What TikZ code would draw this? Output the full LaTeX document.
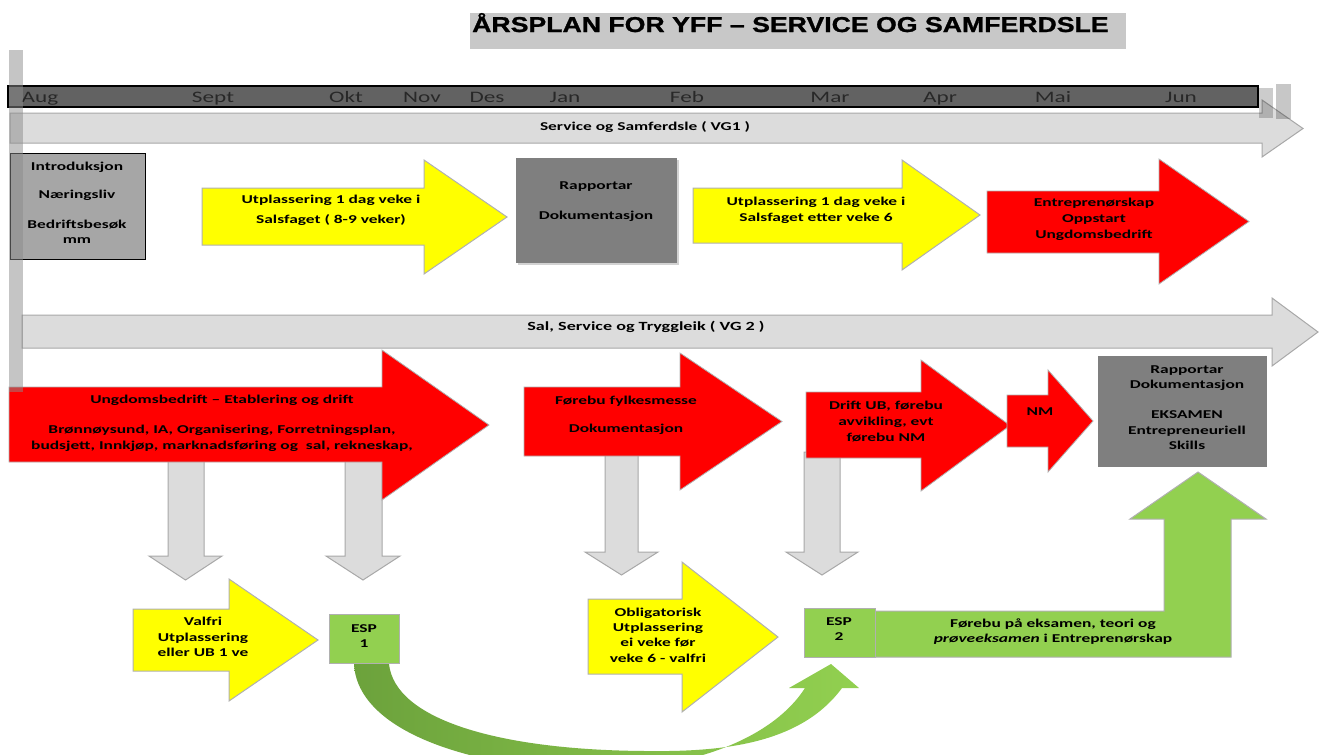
\documentclass[tikz,border=0pt]{standalone}
\usepackage{fontspec}
\setmainfont{Carlito}[FakeStretch=1.45]
\newfontfamily\titlefont{Liberation Sans}[FakeStretch=1.24, BoldFeatures={FakeBold=1.2}]
\usetikzlibrary{shadows}
\definecolor{bargrey}{RGB}{98,98,98}
\definecolor{monthtxt}{RGB}{40,40,40}
\definecolor{titlegrey}{RGB}{200,200,200}
\definecolor{lightarr}{RGB}{220,220,220}
\definecolor{lightline}{RGB}{168,168,168}
\definecolor{introgrey}{RGB}{166,166,166}
\definecolor{boxgrey}{RGB}{127,127,127}
\definecolor{yel}{RGB}{255,255,0}
\definecolor{redf}{RGB}{255,0,0}
\definecolor{edge}{RGB}{176,176,176}
\definecolor{grn}{RGB}{146,208,80}
\definecolor{dkgrn}{RGB}{108,162,60}
\definecolor{sidebar}{RGB}{140,140,140}
\tikzset{
  greyarr/.style={fill=lightarr, draw=lightline, line width=1pt},
  yelarr/.style={fill=yel, draw=edge, line width=1pt},
  redarr/.style={fill=redf, draw=edge, line width=0.8pt},
  grnshape/.style={fill=grn, draw=edge, line width=1pt},
  lbl/.style={font=\fontsize{12}{15.3}\selectfont\bfseries, align=center, inner sep=0pt},
  month/.style={font=\fontsize{16}{18}\selectfont, text=monthtxt, anchor=base, inner sep=0pt},
}
\newcommand{\rarr}[8]{%
  \path[#1] (#2,#5) -- (#3,#5) -- (#3,#7) -- (#4,{(#7+#8)/2}) -- (#3,#8) -- (#3,#6) -- (#2,#6) -- cycle;}
\newcommand{\darr}[8]{%
  \path[#1] (#2,#4) -- (#3,#4) -- (#3,#5) -- (#7,#5) -- ({(#6+#7)/2},#8) -- (#6,#5) -- (#2,#5) -- cycle;}
\begin{document}
\begin{tikzpicture}[x=1pt,y=-1pt]
\useasboundingbox (0,0) rectangle (1320,755);
\fill[white] (0,0) rectangle (1320,755);
\clip (0,0) rectangle (1320,755);
% title
\fill[titlegrey] (470,13) rectangle (1126,49);
\node[anchor=base west, inner sep=0pt] (title) at (472,32) {\titlefont\bfseries\fontsize{21.5}{25}\selectfont ÅRSPLAN FOR YFF – SERVICE OG SAMFERDSLE};
% month bar
\draw[fill=bargrey, draw=black, line width=1.5pt] (8,86) rectangle (1258,107);
\node[month] (m1) at (40,102) {Aug};
\node[month] (m2) at (213,102) {Sept};
\node[month] (m3) at (346,102) {Okt};
\node[month] (m4) at (422,102) {Nov};
\node[month] (m5) at (487,102) {Des};
\node[month] (m6) at (565,102) {Jan};
\node[month] (m7) at (687,102) {Feb};
\node[month] (m8) at (830,102) {Mar};
\node[month] (m9) at (940,102) {Apr};
\node[month] (m10) at (1053,102) {Mai};
\node[month] (m11) at (1181,102) {Jun};
% VG1 arrow
\rarr{greyarr}{10}{1262}{1303}{113}{143}{100}{157}
\node[lbl, font=\fontsize{12}{14}\selectfont\bfseries] (vg1) at (645,127) {Service og Samferdsle ( VG1 )};
\fill[black, opacity=0.2] (1259,88) rectangle (1273,118);
\fill[black, opacity=0.22] (1276,84) rectangle (1291,119);
% row 1
\draw[fill=introgrey, draw=black, line width=1pt] (10,153) rectangle (145,259);
\node[lbl] (intro) at (77,203) {Introduksjon\\[12.7pt]Næringsliv\\[14.7pt]Bedriftsbesøk\\mm};
\rarr{yelarr}{202}{424}{507}{188}{245}{160}{274}
\node[lbl] (utpl1) at (331,210) {Utplassering 1 dag veke i\\[4.7pt]Salsfaget ( 8-9 veker)};
\fill[boxgrey, drop shadow={opacity=0.35, shadow xshift=2pt, shadow yshift=-2pt}] (516,158) rectangle (677,263);
\node[lbl] (rapp1) at (596,202) {Rapportar\\[14.7pt]Dokumentasjon};
\rarr{yelarr}{693}{902}{980}{188}{243}{160}{270}
\node[lbl] (utpl2) at (816,210) {Utplassering 1 dag veke i\\[0.7pt]Salsfaget etter veke 6};
\rarr{redarr}{987}{1159}{1249}{191}{253}{159}{284}
\node[lbl] (entr) at (1094,219) {Entreprenørskap\\[0.7pt]Oppstart\\[0.7pt]Ungdomsbedrift};
% VG2 arrow
\rarr{greyarr}{22}{1272}{1318}{315}{348}{298}{366}
\node[lbl, font=\fontsize{12.5}{14}\selectfont\bfseries] (vg2) at (646,327) {Sal, Service og Tryggleik ( VG 2 )};
% grey down arrows
\darr{greyarr}{168}{204}{455}{556}{149}{222}{580}
\darr{greyarr}{345}{382}{455}{556}{326}{400}{580}
\darr{greyarr}{605}{638}{450}{552}{585}{658}{575}
\darr{greyarr}{804}{840}{452}{552}{786}{858}{575}
% row 2 red arrows
\rarr{redarr}{9}{382}{489}{387}{462}{350}{500}
\node[lbl] (ub) at (222,423) {Ungdomsbedrift -- Etablering og drift\\[14.7pt]Brønnøysund, IA, Organisering, Forretningsplan,\\[0.7pt]budsjett, Innkjøp, marknadsføring og\ \ sal, rekneskap,};
\rarr{redarr}{524}{680}{782}{387}{456}{353}{490}
\node[lbl] (fylk) at (626,415) {Førebu fylkesmesse\\[12.7pt]Dokumentasjon};
\rarr{redarr}{806}{921}{1010}{392}{458}{360}{491}
\node[lbl] (drift) at (886,422) {Drift UB, førebu\\[0.7pt]avvikling, evt\\[0.7pt]førebu NM};
\rarr{redarr}{1007}{1048}{1093}{395}{447}{370}{472}
\node[lbl] (nm) at (1040,412) {NM};
\fill[boxgrey] (1098,356) rectangle (1267,467);
\node[lbl] (rapp2) at (1187,407.5) {Rapportar\\Dokumentasjon\\[15pt]EKSAMEN\\Entrepreneuriell\\Skills};
% row 3
\rarr{yelarr}{133}{229}{318}{609}{671}{579}{701}
\node[lbl] (valfri) at (203,637) {Valfri\\Utplassering\\eller UB 1 ve};
\draw[grnshape] (329,614) rectangle (399,663);
\node[lbl] (esp1) at (364,636) {ESP\\1};
\rarr{yelarr}{588}{682}{778}{599}{674}{562}{712}
\node[lbl] (oblig) at (658,635) {Obligatorisk\\Utplassering\\ei veke før\\veke 6 - valfri};
\path[grnshape] (875,611) -- (1164,611) -- (1164,519) -- (1130,519) -- (1198,472) -- (1266,519) -- (1231,519) -- (1231,657) -- (875,657) -- cycle;
\draw[grnshape] (804,608) rectangle (875,657);
\node[lbl] (esp2) at (839,629) {ESP\\2};
\node[lbl] (forebu) at (1053,631.5) {Førebu på eksamen, teori og\\\textit{prøveeksamen} i Entreprenørskap};
% curved arrow
\shade[left color=dkgrn, right color=grn]
  (354,664) .. controls (358,740) and (500,772) .. (600,770)
  .. controls (700,768) and (775,735) .. (805,688)
  -- (789,688) -- (831,664) -- (859,688) -- (842,688)
  .. controls (800,745) and (720,752) .. (645,751)
  .. controls (500,750) and (395,720) .. (389,664) -- cycle;
% left vertical bar
\fill[sidebar, opacity=0.5] (9,50) rectangle (23,392);
\end{tikzpicture}
\end{document}
